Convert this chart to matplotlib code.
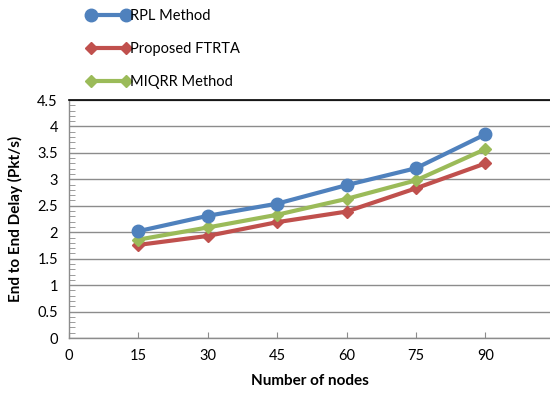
import matplotlib
matplotlib.use("Agg")
import matplotlib.pyplot as plt
from matplotlib.ticker import MultipleLocator, FuncFormatter

plt.rcParams['font.family'] = ['Lato', 'DejaVu Sans']

nodes = [15, 30, 45, 60, 75, 90]
rpl = [2.02, 2.31, 2.54, 2.89, 3.21, 3.85]
ftrta = [1.76, 1.93, 2.19, 2.39, 2.83, 3.30]
miqrr = [1.86, 2.09, 2.33, 2.63, 2.98, 3.57]
series_names = ["RPL Method", "Proposed FTRTA", "MIQRR Method"]

blue = "#4F81BD"
red = "#C0504D"
green = "#9BBB59"

fig = plt.figure(figsize=(5.5, 3.96), dpi=100)
ax = fig.add_axes([69/550, 1-338/396, (550-69)/550, (338-100)/396])

l1, = ax.plot(nodes, rpl, color=blue, lw=3, marker='o', ms=9, label=series_names[0], zorder=5)
l2, = ax.plot(nodes, ftrta, color=red, lw=3, marker='D', ms=6.5, label=series_names[1], zorder=4)
l3, = ax.plot(nodes, miqrr, color=green, lw=3, marker='D', ms=6.5, label=series_names[2], zorder=4)

ax.set_xlim(0, 104)
ax.set_ylim(0, 4.5)
ax.set_xticks([0, 15, 30, 45, 60, 75, 90])
ax.yaxis.set_major_locator(MultipleLocator(0.5))
ax.yaxis.set_minor_locator(MultipleLocator(0.1))
ax.yaxis.set_major_formatter(FuncFormatter(lambda v, p: f"{v:g}"))
ax.grid(axis='y', which='major', color='#8C8C8C', lw=1)
ax.set_axisbelow(True)

for s in ['left', 'bottom']:
    ax.spines[s].set_color('#8C8C8C')
    ax.spines[s].set_linewidth(1)
ax.spines['top'].set_color('#000000')
ax.spines['top'].set_linewidth(1.2)
ax.spines['right'].set_visible(False)

ax.tick_params(axis='both', which='both', direction='in', color='#8C8C8C', labelsize=10.5, labelcolor='#000000')
ax.tick_params(axis='y', which='major', length=0, pad=8)
ax.tick_params(axis='y', which='minor', length=4)
ax.tick_params(axis='x', which='major', length=4, pad=8)

ax.set_xlabel("Number of nodes", fontsize=11, fontweight='bold', labelpad=8)
ax.set_ylabel("End to End Delay (Pkt/s)", fontsize=11, fontweight='bold', labelpad=10)

fig.legend(handles=[l1, l2, l3], loc='upper left', bbox_to_anchor=(78/550, 1.0),
           frameon=False, fontsize=10.5, labelspacing=1.32, handlelength=3.0,
           handletextpad=0.0, borderaxespad=0.2, numpoints=2)

fig.savefig("out.png", dpi=100)
